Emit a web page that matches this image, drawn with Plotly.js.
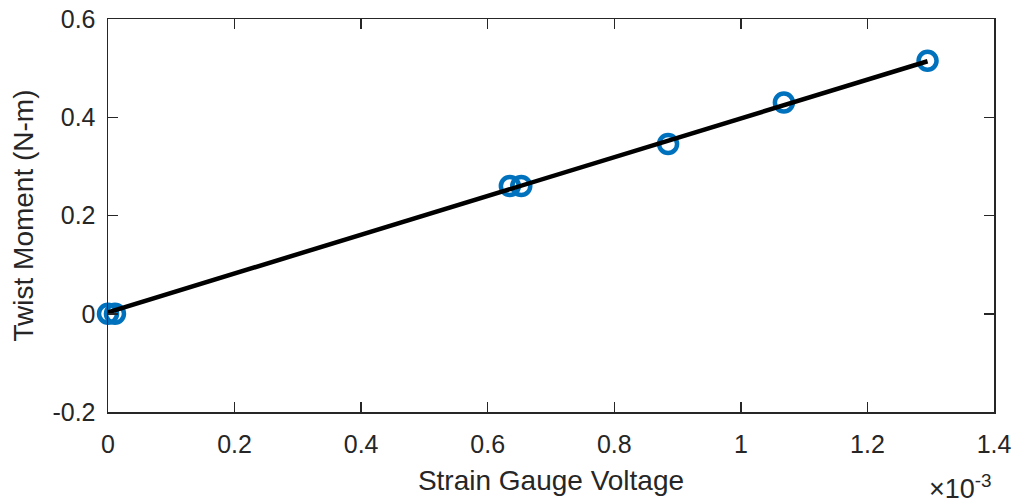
<!DOCTYPE html>
<html>
<head>
<meta charset="utf-8">
<script src="https://cdn.plot.ly/plotly-3.0.1.min.js"></script>
<style>
  html, body { margin: 0; padding: 0; background: #fff; }
  #chart { width: 1019px; height: 504px; }
</style>
</head>
<body>
<div id="chart"></div>
<script>
// Measured data (strain gauge voltage in V, twist moment in N-m)
const voltage = [0, 0.000011, 0.000635, 0.000653, 0.000885, 0.001068, 0.001295];
const moment  = [0, 0, 0.260, 0.260, 0.3455, 0.430, 0.515];

// Linear fit line endpoints
const fitVoltage = [0, 0.001295];
const fitMoment  = [0.003, 0.514];

// Axis ticks
const xTickVals = [0, 0.0002, 0.0004, 0.0006, 0.0008, 0.0010, 0.0012, 0.0014];
const xTickText = ['0', '0.2', '0.4', '0.6', '0.8', '1', '1.2', '1.4'];
const yTickVals = [-0.2, 0, 0.2, 0.4, 0.6];
const yTickText = ['-0.2', '0', '0.2', '0.4', '0.6'];

const axisColor = '#262626';
const fontFamily = 'Liberation Sans, Arial, Helvetica, sans-serif';

const traces = [
  {
    x: voltage, y: moment,
    type: 'scatter', mode: 'markers',
    marker: { symbol: 'circle-open', size: 18, color: '#0072BD', line: { width: 4.5, color: '#0072BD' } },
    cliponaxis: false,
    hoverinfo: 'x+y'
  },
  {
    x: fitVoltage, y: fitMoment,
    type: 'scatter', mode: 'lines',
    line: { color: '#000000', width: 4.5 },
    cliponaxis: false,
    hoverinfo: 'x+y'
  }
];

const axisCommon = {
  showline: true, linecolor: axisColor, linewidth: 1.5,
  mirror: 'ticks', ticks: 'inside', ticklen: 10, tickwidth: 1.5, tickcolor: axisColor,
  showgrid: false, zeroline: false,
  tickfont: { family: fontFamily, size: 25, color: axisColor }
};

const layout = {
  width: 1019, height: 504,
  margin: { l: 108, r: 25, t: 19, b: 92 },
  paper_bgcolor: '#ffffff', plot_bgcolor: '#ffffff',
  showlegend: false,
  font: { family: fontFamily, color: axisColor },
  xaxis: Object.assign({}, axisCommon, {
    range: [0, 0.0014], tickmode: 'array', tickvals: xTickVals, ticktext: xTickText,
    ticklabelstandoff: 9,
    title: { text: 'Strain Gauge Voltage', font: { family: fontFamily, size: 28, color: axisColor }, standoff: 14 }
  }),
  yaxis: Object.assign({}, axisCommon, {
    range: [-0.2, 0.6], tickmode: 'array', tickvals: yTickVals, ticktext: yTickText,
    ticklabelstandoff: 6,
    title: { text: 'Twist Moment (N-m)', font: { family: fontFamily, size: 28, color: axisColor }, standoff: 10 }
  }),
  annotations: [{
    xref: 'paper', yref: 'paper', x: 1.0, y: 0, xanchor: 'right', yanchor: 'bottom',
    yshift: -94, xshift: 0,
    text: '×10<sup>-3</sup>', showarrow: false,
    font: { family: fontFamily, size: 27, color: axisColor }
  }]
};

Plotly.newPlot('chart', traces, layout, { displayModeBar: false, staticPlot: true });
</script>
</body>
</html>
